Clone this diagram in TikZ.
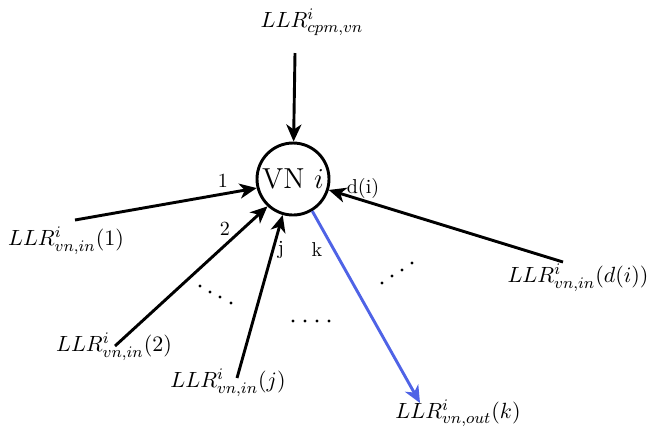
\documentclass[tikz,border=0pt]{standalone}
\usepackage{tikz}
\usetikzlibrary{arrows.meta, positioning}
\definecolor{ink}{HTML}{000000}
\definecolor{outblue}{HTML}{4F63E6}
\tikzset{
  vnode/.style={circle, draw=ink, line width=1.45pt, minimum size=1.26cm,
                inner sep=0pt, font=\Large},
  llr/.style={inner sep=1pt, text=ink, font=\fontsize{10.8}{13}\selectfont},
  elab/.style={inner sep=1pt, font=\normalsize},
  fl/.style={-{Stealth[length=8.5pt, width=7.5pt, inset=2.5pt]}, line width=1.45pt, draw=ink},
  flout/.style={fl, draw=outblue, -{Stealth[length=8.5pt, width=7.5pt, inset=2.5pt, fill=outblue]}},
  dotmark/.style={fill=ink, draw=none},
}
\begin{document}
\begin{tikzpicture}[x=0.0175cm, y=-0.0175cm]
    \useasboundingbox (0,0) rectangle (647,428);
    % check node
    \node[vnode] (vn) at (293,179) {VN $i$};
    % labels
    \node[llr] (lcpm) at (312,22) {$LLR^i_{cpm,vn}$};
    \node[llr] (l1) at (66,241) {$LLR^i_{vn,in}(1)$};
    \node[llr] (l2) at (114,347) {$LLR^i_{vn,in}(2)$};
    \node[llr] (lj) at (228,383) {$LLR^i_{vn,in}(j)$};
    \node[llr] (ld) at (578,278) {$LLR^i_{vn,in}(d(i))$};
    \node[llr] (lk) at (458,413) {$LLR^i_{vn,out}(k)$};
    % line ends
    \coordinate (s0) at (295,53);
    \coordinate (s1) at (75,220);
    \coordinate (s2) at (115,346);
    \coordinate (sj) at (237,378);
    \coordinate (sd) at (563,262);
    \coordinate (ek) at (420,403);
    \draw[fl] (s0)--(vn);
    \draw[fl] (s1)--(vn.-166);
    \draw[fl] (s2)--(vn.-133);
    \draw[fl] (sj)--(vn.-106);
    \draw[fl] (sd)--(vn.-17);
    \draw[flout] (vn.-59)--(ek);
    % edge numbers
    \node[elab] (n1) at (223,181) {1};
    \node[elab] (n2) at (225,229) {2};
    \node[elab] (nj) at (281,250) {j};
    \node[elab] (nk) at (317,250) {k};
    \node[elab] (nd) at (363,188) {d(i)};
    % dots
    \foreach \p in {(200,286),(210,292),(220,297),(231,303),
                    (293,321),(305,321),(317,321),(329,321),
                    (382,283),(392,276),(402,270),(412,263)}
      \fill[dotmark] \p circle (1.7);
  \end{tikzpicture}
\end{document}
